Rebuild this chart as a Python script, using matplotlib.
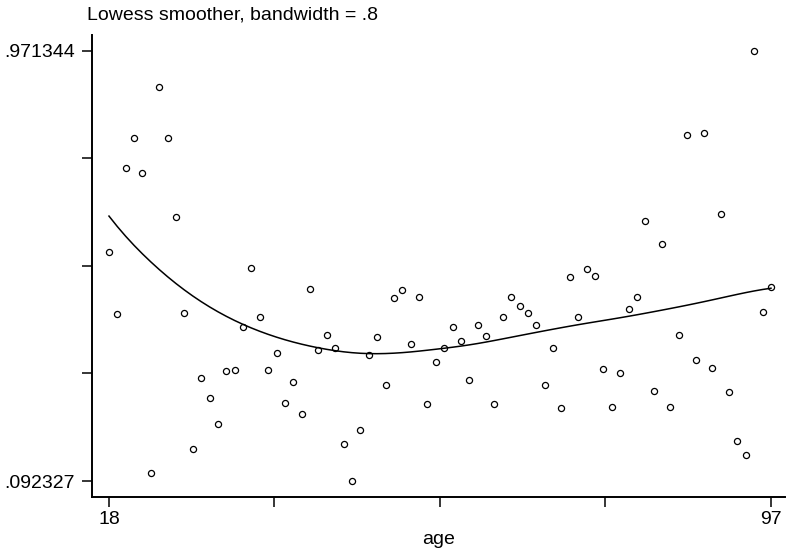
import numpy as np
import matplotlib
matplotlib.use("Agg")
import matplotlib.pyplot as plt

plt.rcParams["font.family"] = ["Liberation Sans", "DejaVu Sans"]

age = np.arange(18, 98)
y = np.array([
    0.561, 0.433, 0.732, 0.794, 0.722, 0.109, 0.897, 0.794, 0.632, 0.436,  # 18-27
    0.158, 0.303, 0.262, 0.209, 0.317, 0.320, 0.408, 0.527, 0.428, 0.320,  # 28-37
    0.354, 0.251, 0.295, 0.229, 0.485, 0.359, 0.391, 0.365, 0.167, 0.092327,  # 38-47
    0.196, 0.350, 0.387, 0.289, 0.466, 0.482, 0.373, 0.468, 0.250, 0.335,  # 48-57
    0.365, 0.406, 0.379, 0.299, 0.412, 0.389, 0.250, 0.428, 0.469, 0.450,  # 58-67
    0.436, 0.411, 0.288, 0.365, 0.241, 0.510, 0.428, 0.525, 0.511, 0.322,  # 68-77
    0.243, 0.314, 0.443, 0.468, 0.624, 0.276, 0.577, 0.243, 0.391, 0.800,  # 78-87
    0.340, 0.803, 0.323, 0.637, 0.274, 0.175, 0.146, 0.971344, 0.438, 0.489,  # 88-97
])
bwidth = 0.8
ymin_lab, ymax_lab = ".092327", ".971344"


def lowess(x, v, bw):
    # running-line lowess with tricube weights, no robustness iterations
    n = len(x)
    k = int(np.floor((n * bw - 0.5) / 2))
    out = np.empty(n)
    for i in range(n):
        lo, hi = max(0, i - k), min(n - 1, i + k)
        xs, vs = x[lo:hi + 1], v[lo:hi + 1]
        d = 1.0001 * max(x[hi] - x[i], x[i] - x[lo])
        w = (1 - (np.abs(xs - x[i]) / d) ** 3) ** 3
        xm = np.sum(w * xs) / w.sum(); vm = np.sum(w * vs) / w.sum()
        b = np.sum(w * (xs - xm) * (vs - vm)) / np.sum(w * (xs - xm) ** 2)
        out[i] = vm + b * (x[i] - xm)
    return out


smooth = lowess(age.astype(float), y, bwidth)

fig = plt.figure(figsize=(7.86, 5.49), dpi=100)
ax = fig.add_axes([0.117, 0.0947, 0.8817, 0.8415])
ax.plot(age, y, "o", ms=4.4, mfc="white", mec="black", mew=0.9, ls="none")
ax.plot(age, smooth, color="black", lw=1.1)

ax.set_xlim(15.97, 98.67)
ax.set_ylim(0.0597, 1.0034)
ax.spines["top"].set_visible(False)
ax.spines["right"].set_visible(False)
for s in ("left", "bottom"):
    ax.spines[s].set_linewidth(1.4)

xt = np.linspace(age.min(), age.max(), 5)
ax.set_xticks(xt)
ax.set_xticklabels(["18", "", "", "", "97"])
yt = np.linspace(0.092327, 0.971344, 5)
ax.set_yticks(yt)
ax.set_yticklabels([ymin_lab, "", "", "", ymax_lab])
ax.tick_params(direction="out", length=7.2, width=1.1, labelsize=14)
ax.tick_params(axis="y", pad=5)
ax.tick_params(axis="x", pad=3)
ax.set_xlabel("age", fontsize=14, labelpad=2)
fig.text(0.1107, 0.973, "Lowess smoother, bandwidth = .8", fontsize=14,
         ha="left", va="center")

fig.savefig("out.png", dpi=100)
